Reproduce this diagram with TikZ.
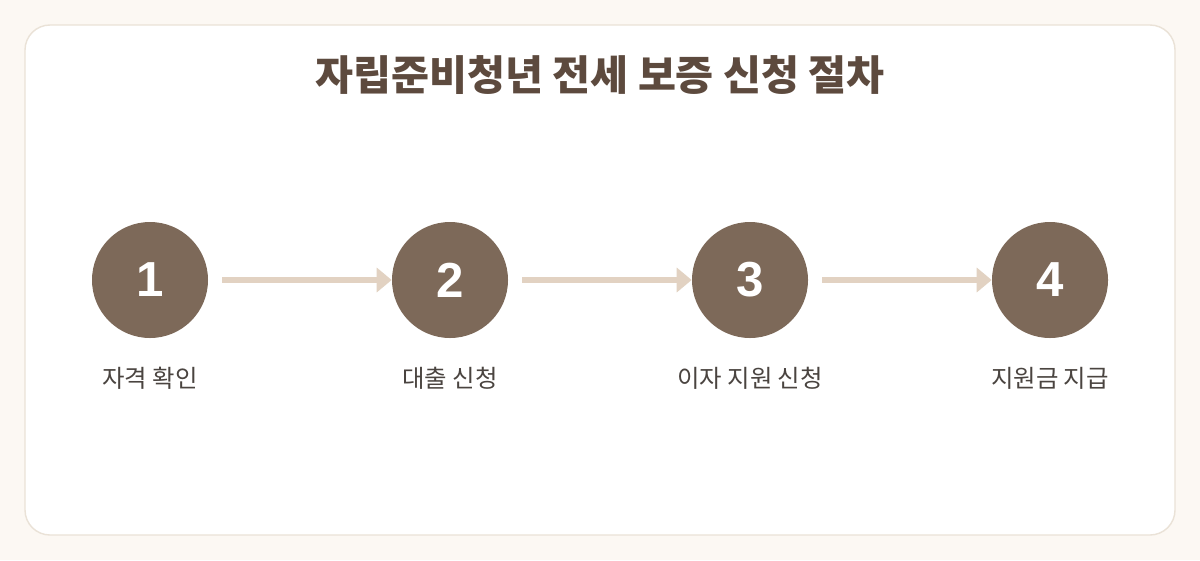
\documentclass[tikz,border=0pt]{standalone}
\usepackage{fontspec}
\setmainfont{Noto Sans CJK KR}
\newfontfamily\digitfont{Liberation Sans}
\usetikzlibrary{arrows.meta,positioning}
\definecolor{pagebg}{HTML}{FCF8F3}
\definecolor{cardline}{HTML}{EAE2D7}
\definecolor{titlebrown}{HTML}{5D4A3E}
\definecolor{stepbrown}{HTML}{7D6959}
\definecolor{arrowbeige}{HTML}{E2D2C2}
\definecolor{labelgray}{HTML}{4A4440}
\tikzset{
  stepdot/.style={circle, fill=stepbrown, minimum size=2.32cm, inner sep=0pt,
    text=white, font=\digitfont\bfseries\fontsize{28}{30}\selectfont},
  steplabel/.style={text=labelgray, font=\fontsize{13.9}{16}\selectfont},
  steparrow/.style={arrowbeige, line width=3.4pt,
    -{Triangle[length=8.5pt,width=13.6pt]}, shorten <=0.28cm}
}
\begin{document}
\begin{tikzpicture}
		%%%%% START %%%%%
		
		\fill[pagebg] (0, 0) rectangle (24, -11.2);
		\useasboundingbox (0, 0) rectangle (24, -11.2);
		\draw[cardline, fill=white, line width=0.8pt, rounded corners=0.5cm] (0.5, -0.5) rectangle (23.5, -10.7);
		
		\node[text=titlebrown, font=\bfseries\fontsize{23.5}{26}\selectfont] (title) at (12, -1.5) {자립준비청년 전세 보증 신청 절차};
		
		\node[stepdot] (s1) at (3, -5.6) {1};
		\node[stepdot] (s2) at (9, -5.6) {2};
		\node[stepdot] (s3) at (15, -5.6) {3};
		\node[stepdot] (s4) at (21, -5.6) {4};
		
		\node[steplabel] (l1) at (3, -7.56) {자격 확인};
		\node[steplabel] (l2) at (9, -7.56) {대출 신청};
		\node[steplabel] (l3) at (15, -7.56) {이자 지원 신청};
		\node[steplabel] (l4) at (21, -7.56) {지원금 지급};
		
		\draw[steparrow] (s1) -- (s2);
		\draw[steparrow] (s2) -- (s3);
		\draw[steparrow] (s3) -- (s4);
		
		%%%%% END %%%%%
	\end{tikzpicture}
\end{document}
